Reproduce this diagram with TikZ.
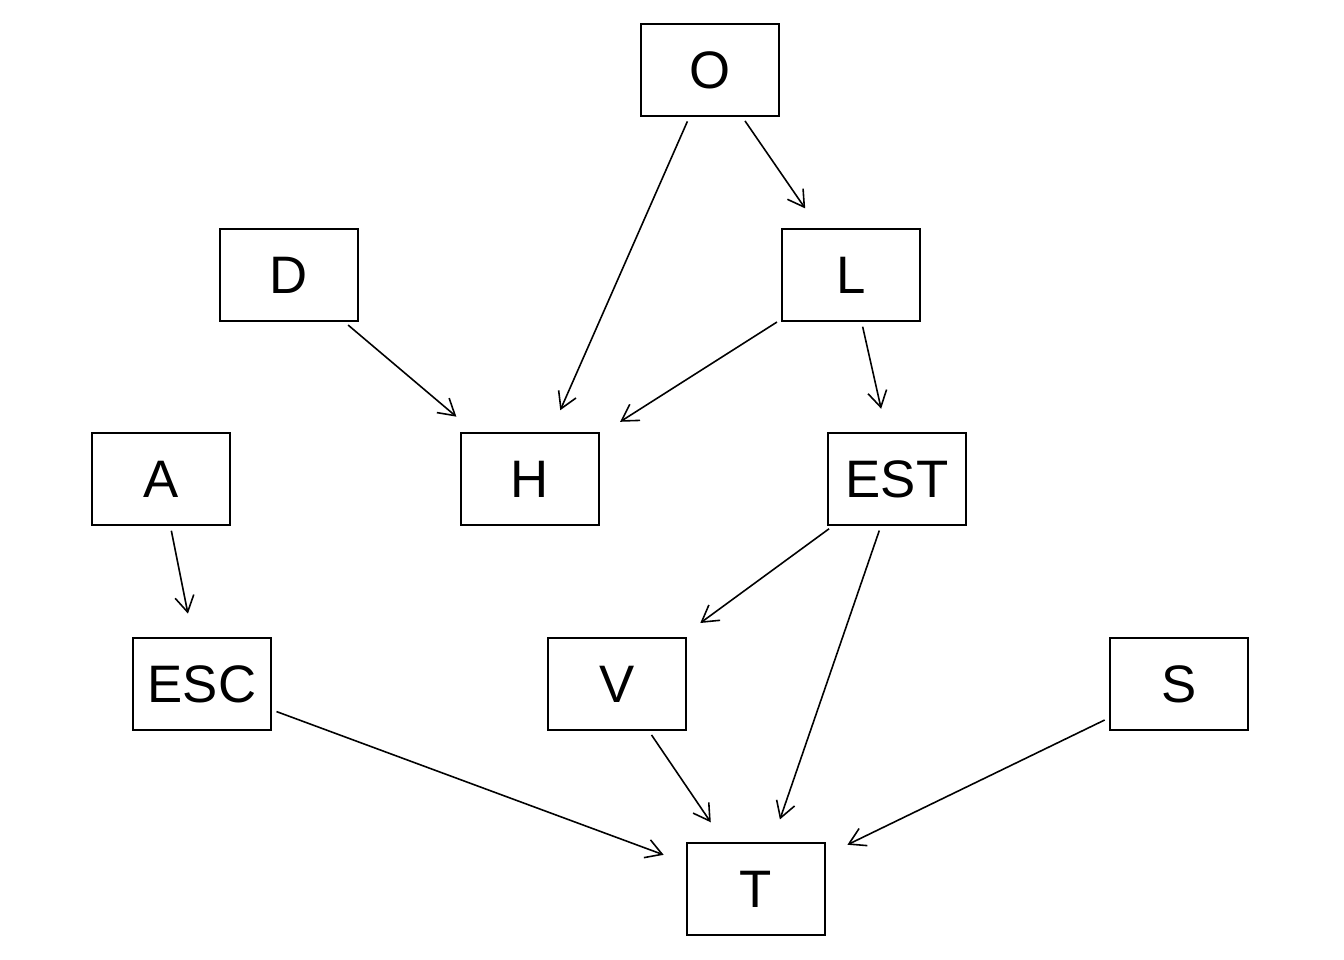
\documentclass[tikz,border=0pt]{standalone}
\usepackage{fontspec}
\setmainfont{Liberation Sans}
\usetikzlibrary{arrows.meta}
\begin{document}
\begin{tikzpicture}[x=0.01cm,y=-0.01cm,
  var/.style={draw, line width=0.45pt, minimum width=1.38cm, minimum height=0.92cm,
    inner sep=0pt, font=\fontsize{15pt}{15pt}\selectfont},
  edge/.style={line width=0.45pt, -{Straight Barb[length=1.6mm,width=1.9mm,line width=0.45pt]},
    shorten <=0.5mm, shorten >=2.4mm}]
  \useasboundingbox (0,0) rectangle (1344,960);
  % variables
  \node[var] (O)   at (710,70)  {O};
  \node[var] (D)   at (289,275) {D};
  \node[var] (L)   at (851,275) {L};
  \node[var] (A)   at (161,479) {A};
  \node[var] (H)   at (530,479) {H};
  \node[var] (EST) at (897,479) {EST};
  \node[var] (ESC) at (202,684) {ESC};
  \node[var] (V)   at (617,684) {V};
  \node[var] (S)   at (1179,684) {S};
  \node[var] (T)   at (756,889) {T};
  % directed edges
  \draw[edge] (O) -- (H);
  \draw[edge] (O) -- (L);
  \draw[edge] (D) -- (H);
  \draw[edge] (L) -- (H);
  \draw[edge] (L) -- (EST);
  \draw[edge] (A) -- (ESC);
  \draw[edge] (EST) -- (V);
  \draw[edge] (EST) -- (T);
  \draw[edge] (ESC) -- (T);
  \draw[edge] (V) -- (T);
  \draw[edge] (S) -- (T);
\end{tikzpicture}
\end{document}
